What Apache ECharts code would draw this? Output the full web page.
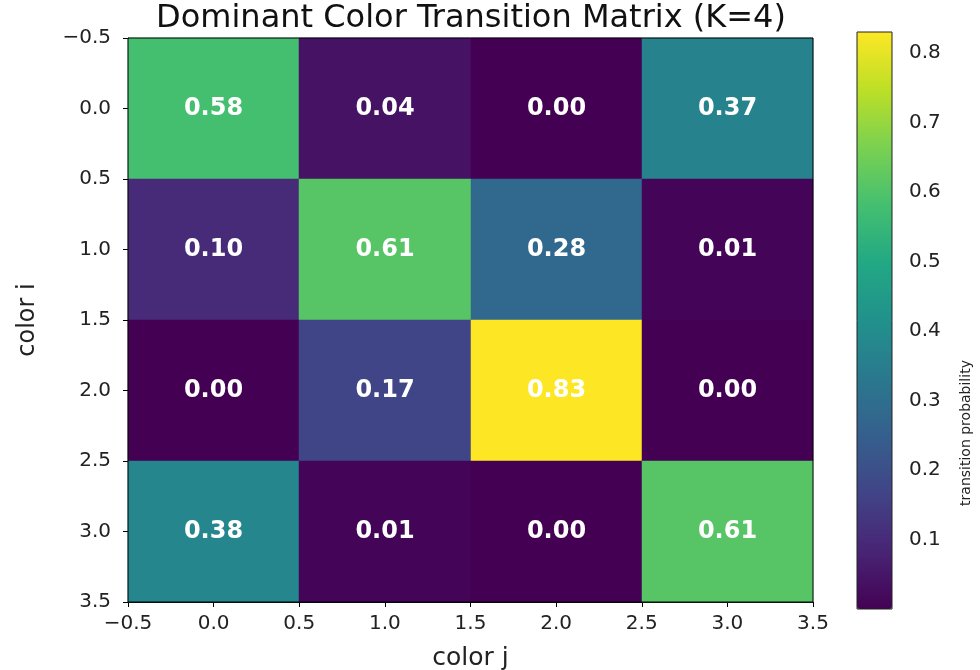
<!DOCTYPE html>
<html>
<head>
<meta charset="utf-8">
<script src="https://cdn.jsdelivr.net/npm/echarts@6/dist/echarts.min.js"></script>
<style>
html,body{margin:0;padding:0;background:#fff;}
#chart{width:980px;height:670px;}
</style>
</head>
<body>
<div id="chart"></div>
<script>
// ---- data ----
const rowLabels = [0, 1, 2, 3];      // color i
const colLabels = [0, 1, 2, 3];      // color j
const row0 = [0.58, 0.04, 0.00, 0.37];
const row1 = [0.10, 0.61, 0.28, 0.01];
const row2 = [0.00, 0.17, 0.83, 0.00];
const row3 = [0.38, 0.01, 0.00, 0.61];
const matrix = [row0, row1, row2, row3];
const colorMin = 0.0;
const colorMax = 0.83;
const viridis = ['#440154','#482475','#414487','#355f8d','#2a788e','#21918c','#22a884','#44bf70','#7ad151','#bddf26','#fde725'];

const cells = [];
matrix.forEach((row, i) => row.forEach((v, j) => cells.push([colLabels[j], rowLabels[i], v])));

const FONT = 'DejaVu Sans';
const fmtTick = v => (v < 0 ? '\u2212' + Math.abs(v).toFixed(1) : v.toFixed(1));

const chart = echarts.init(document.getElementById('chart'), null, {renderer: 'canvas'});
chart.setOption({
  animation: false,
  backgroundColor: '#fff',
  textStyle: {fontFamily: FONT},
  grid: [
    {left: 128, top: 38, width: 685, height: 564, show: true, borderColor: '#000', borderWidth: 1, backgroundColor: 'transparent', z: 10, outerBoundsMode: 'none', containLabel: false},
    {left: 857, top: 32, width: 35, height: 577, show: true, borderColor: '#222', borderWidth: 1, backgroundColor: 'transparent', z: 10, outerBoundsMode: 'none', containLabel: false}
  ],
  xAxis: [
    {gridIndex: 0, type: 'value', min: -0.5, max: 3.5, interval: 0.5,
     axisLine: {show: true, onZero: false, lineStyle: {color: '#000', width: 1}},
     axisTick: {show: true, length: 5, lineStyle: {color: '#000'}},
     axisLabel: {color: '#222', fontSize: 20, fontFamily: FONT, margin: 12, formatter: fmtTick},
     splitLine: {show: false},
     name: 'color j', nameLocation: 'middle', nameGap: 44,
     nameTextStyle: {color: '#222', fontSize: 25, fontFamily: FONT}},
    {gridIndex: 1, type: 'value', min: 0, max: 1, show: false}
  ],
  yAxis: [
    {gridIndex: 0, type: 'value', min: -0.5, max: 3.5, interval: 0.5, inverse: true,
     axisLine: {show: true, onZero: false, lineStyle: {color: '#000', width: 1}},
     axisTick: {show: true, length: 5, lineStyle: {color: '#000'}},
     axisLabel: {color: '#222', fontSize: 20, fontFamily: FONT, margin: 17, formatter: fmtTick},
     splitLine: {show: false},
     name: 'color i', nameLocation: 'middle', nameGap: 88, nameRotate: 90,
     nameTextStyle: {color: '#222', fontSize: 24, fontFamily: FONT}},
    {gridIndex: 1, type: 'value', min: colorMin, max: colorMax, interval: 0.1, position: 'right',
     axisLine: {show: false},
     axisTick: {show: true, length: 5, lineStyle: {color: '#222'}},
     axisLabel: {color: '#222', fontSize: 20, fontFamily: FONT, margin: 17, showMinLabel: false, showMaxLabel: false,
       formatter: v => v.toFixed(1)},
     splitLine: {show: false}}
  ],
  visualMap: {
    type: 'continuous', min: colorMin, max: colorMax, dimension: 2, seriesIndex: 0,
    inRange: {color: viridis}, calculable: false, text: null, showLabel: false,
    left: 857, top: 32, itemWidth: 35, itemHeight: 577, padding: 0, orient: 'vertical',
    hoverLink: false
  },
  graphic: [
    {type: 'text', x: 471, y: 19, z: 100, style: {text: 'Dominant Color Transition Matrix (K=4)', fill: '#111', font: '32px "DejaVu Sans"', align: 'center', verticalAlign: 'middle'}},
    {type: 'text', x: 966, y: 433, rotation: Math.PI / 2, z: 100, style: {text: 'transition probability', fill: '#222', font: '14px "DejaVu Sans"', align: 'center', verticalAlign: 'middle'}}
  ],
  series: [{
    type: 'custom', coordinateSystem: 'cartesian2d', xAxisIndex: 0, yAxisIndex: 0,
    data: cells,
    renderItem: function (params, api) {
      const x = api.value(0), y = api.value(1), v = api.value(2);
      const p0 = api.coord([x - 0.5, y - 0.5]);
      const p1 = api.coord([x + 0.5, y + 0.5]);
      const x0 = Math.round(Math.min(p0[0], p1[0])), x1 = Math.round(Math.max(p0[0], p1[0]));
      const y0 = Math.round(Math.min(p0[1], p1[1])), y1 = Math.round(Math.max(p0[1], p1[1]));
      const col = api.visual('color');
      return {
        type: 'group',
        children: [
          {type: 'rect', shape: {x: x0, y: y0, width: x1 - x0, height: y1 - y0}, style: {fill: col, stroke: col, lineWidth: 0.5}},
          {type: 'text', x: (x0 + x1) / 2, y: (y0 + y1) / 2, style: {text: v.toFixed(2), fill: '#fff', font: 'bold 24px "DejaVu Sans"', align: 'center', verticalAlign: 'middle'}}
        ]
      };
    }
  }]
});
</script>
</body>
</html>
